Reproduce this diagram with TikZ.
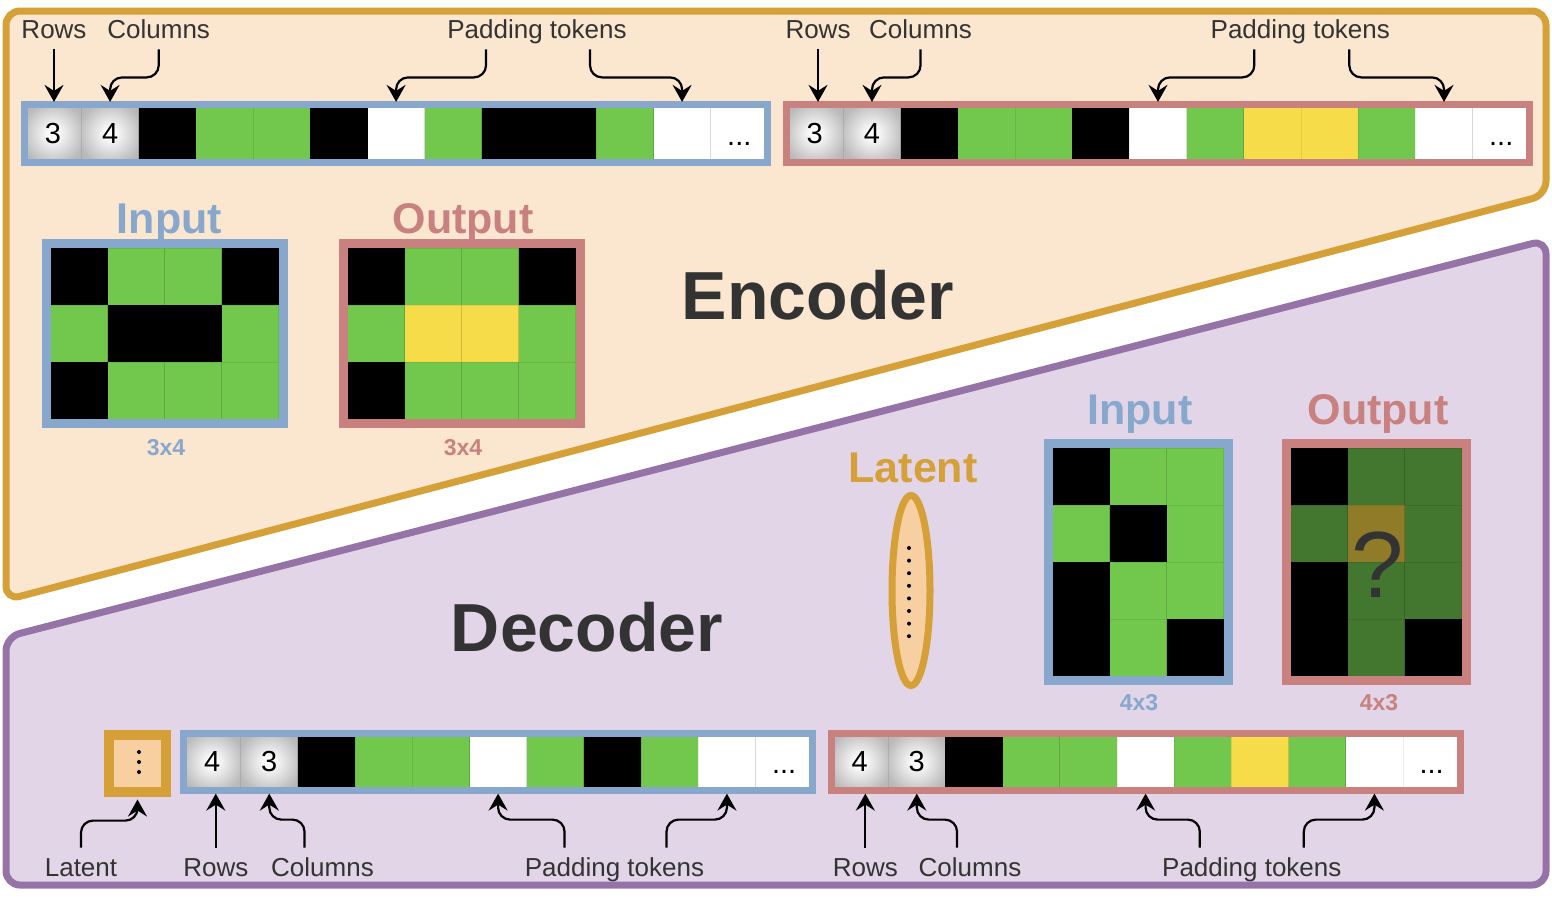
\documentclass[tikz,border=0pt]{standalone}
\usepackage{fontspec}
\setmainfont{Liberation Sans}
\usetikzlibrary{calc,arrows.meta,shapes.geometric}

\definecolor{encfill}{HTML}{FBE6CF}
\definecolor{encline}{HTML}{D4A037}
\definecolor{decfill}{HTML}{E1D5E7}
\definecolor{decline}{HTML}{9673A6}
\definecolor{inblue}{HTML}{87A7CC}
\definecolor{outred}{HTML}{C9817F}
\definecolor{grn}{HTML}{71C84C}
\definecolor{ylw}{HTML}{F6DC48}
\definecolor{dgrn}{HTML}{43762E}
\definecolor{olv}{HTML}{8F7B28}
\definecolor{txt}{HTML}{333333}
\definecolor{latfill}{HTML}{F7CFA0}

\pgfdeclareradialshading{tokshade}{\pgfpoint{0bp}{0bp}}{color(0bp)=(white); color(3bp)=(white); color(28bp)=(black!27); color(50bp)=(black!33)}

\newcommand{\lblfont}{\fontsize{13}{15}\selectfont}
\newcommand{\tokfont}{\fontsize{14.5}{16}\selectfont}
\newcommand{\ttlfont}{\fontsize{21.5}{24}\selectfont\bfseries}
\newcommand{\dimfont}{\fontsize{11.5}{13}\selectfont\bfseries}
\newcommand{\bigfont}{\fontsize{34}{38}\selectfont\bfseries}
\newcommand{\qfont}{\fontsize{47}{50}\selectfont}

\tikzset{
  cell/.style={minimum size=28.6pt, inner sep=0pt, outer sep=0pt, draw=black, draw opacity=0.08, line width=0.5pt},
  gcell/.style={cell, minimum size=28.5pt},
  tok/.style={cell, shading=tokshade, shade, font=\tokfont},
  stripframe/.style={line width=3.5pt},
  gridframe/.style={line width=4.5pt},
  lbl/.style={font=\lblfont, text=txt, inner sep=0pt, anchor=base, text height=9.5pt, text depth=5.5pt},
  blbl/.style={lbl, text height=14pt},
  ttl/.style={font=\ttlfont, anchor=base, inner sep=0pt},
  dimlbl/.style={font=\dimfont, anchor=base, inner sep=0pt},
  bigtxt/.style={font=\bigfont, text=txt, anchor=base, inner sep=0pt},
  moretok/.style={font=\tokfont, anchor=base, inner sep=0pt},
  ptr/.style={-{Stealth[length=8.5pt, width=9.5pt, inset=3pt]}, line width=1.1pt, rounded corners=6pt, shorten >=1.5pt}
}

\begin{document}
\begin{tikzpicture}[x=0.5pt, y=-0.5pt]

%\draw[step=50, gray!20, very thin] (0,0) grid (1552,900);
\useasboundingbox (0,0) rectangle (1552,900);

% panels
\draw[encline, fill=encfill, line width=3.5pt, rounded corners=7pt] (6,11) -- (1546,11) -- (1546,195) -- (6,600) -- cycle;
\draw[decline, fill=decfill, line width=3.5pt, rounded corners=7pt] (6,637) -- (1546,240) -- (1546,885) -- (6,885) -- cycle;

% encoder input sequence
\node[tok] (ei1) at (52.9,133.5) {3};
\node[tok] (ei2) at (110.1,133.5) {4};
\foreach \c [count=\i from 3] in {black,grn,grn,black,white,grn,black,black,grn,white,white}
  \node[cell, fill=\c] (ei\i) at ({57.2*\i-4.3},133.5) {};
\draw[inblue, stripframe] (ei1.north west) rectangle (ei13.south east);
\node[moretok] at ($(ei13.center)+(0,11.5)$) {...};

% encoder output sequence
\node[tok] (eo1) at (814.8,133.5) {3};
\node[tok] (eo2) at (872,133.5) {4};
\foreach \c [count=\i from 3] in {black,grn,grn,black,white,grn,ylw,ylw,grn,white,white}
  \node[cell, fill=\c] (eo\i) at ({757.6+57.2*\i},133.5) {};
\draw[outred, stripframe] (eo1.north west) rectangle (eo13.south east);
\node[moretok] at ($(eo13.center)+(0,11.5)$) {...};

% encoder grids
\foreach \row [count=\r] in {{black,grn,grn,black},{grn,black,black,grn},{black,grn,grn,grn}}
  \foreach \c [count=\q] in \row
    \node[gcell, fill=\c] (gi-\r-\q) at ({22+57*\q},{219.5+57*\r}) {};
\draw[inblue, gridframe] ($(gi-1-1.north west)+(-4.5,-4.5)$) rectangle ($(gi-3-4.south east)+(4.5,4.5)$);

\foreach \row [count=\r] in {{black,grn,grn,black},{grn,ylw,ylw,grn},{black,grn,grn,grn}}
  \foreach \c [count=\q] in \row
    \node[gcell, fill=\c] (go-\r-\q) at ({319.3+57*\q},{219.5+57*\r}) {};
\draw[outred, gridframe] ($(go-1-1.north west)+(-4.5,-4.5)$) rectangle ($(go-3-4.south east)+(4.5,4.5)$);

\node[ttl, text=inblue] (inA) at (169.5,233.5) {Input};
\node[ttl, text=outred] (outA) at (463,233.5) {Output};
\node[dimlbl, text=inblue] (szA) at (166,455) {3x4};
\node[dimlbl, text=outred] (szB) at (463,455) {3x4};
\node[bigtxt] (enc) at (818,319) {Encoder};

% decoder grids
\foreach \row [count=\r] in {{black,grn,grn},{grn,black,grn},{black,grn,grn},{black,grn,black}}
  \foreach \c [count=\q] in \row
    \node[gcell, fill=\c] (hi-\r-\q) at ({1024.2+57*\q},{419.8+57*\r}) {};
\draw[inblue, gridframe] ($(hi-1-1.north west)+(-4.5,-4.5)$) rectangle ($(hi-4-3.south east)+(4.5,4.5)$);

\foreach \row [count=\r] in {{black,dgrn,dgrn},{dgrn,olv,dgrn},{black,dgrn,dgrn},{black,dgrn,black}}
  \foreach \c [count=\q] in \row
    \node[gcell, fill=\c] (ho-\r-\q) at ({1262.2+57*\q},{419.8+57*\r}) {};
\draw[outred, gridframe] ($(ho-1-1.north west)+(-4.5,-4.5)$) rectangle ($(ho-4-3.south east)+(4.5,4.5)$);
\node[font=\qfont, text=txt, anchor=base, inner sep=0pt] (qm) at (1378,597) {?};

\node[ttl, text=inblue] (inB) at (1140,424) {Input};
\node[ttl, text=outred] (outB) at (1378,424) {Output};
\node[dimlbl, text=inblue] (szC) at (1139,710) {4x3};
\node[dimlbl, text=outred] (szD) at (1379,710) {4x3};
\node[ttl, text=encline] (latlbl) at (913,482) {Latent};
\node[bigtxt] (dec) at (587,651) {Decoder};

% latent
\node[draw=encline, fill=latfill, line width=3.5pt, ellipse, minimum width=19pt, minimum height=95pt, inner sep=0pt] (latent) at (911,590.5) {};
\foreach \k in {0,...,7}
  \fill (909,{548+12.6*\k}) circle (1pt);

% decoder input sequence
\node[draw=encline, fill=latfill, line width=5pt, minimum size=28.5pt, inner sep=0pt] (lat) at (137.5,763) {};
\foreach \k in {0,1,2}
  \fill (139,{752+10*\k}) circle (1pt);

\node[tok] (di1) at (212.1,762) {4};
\node[tok] (di2) at (269.3,762) {3};
\foreach \c [count=\i from 3] in {black,grn,grn,white,grn,black,grn,white,white}
  \node[cell, fill=\c] (di\i) at ({154.9+57.2*\i},762) {};
\draw[inblue, stripframe] (di1.north west) rectangle (di11.south east);
\node[moretok] at ($(di11.center)+(0,11.5)$) {...};

% decoder output sequence
\node[tok] (do1) at (859.6,762) {4};
\node[tok] (do2) at (916.8,762) {3};
\foreach \c [count=\i from 3] in {black,grn,grn,white,grn,ylw,grn,white,white}
  \node[cell, fill=\c] (do\i) at ({802.4+57.2*\i},762) {};
\draw[outred, stripframe] (do1.north west) rectangle (do11.south east);
\node[moretok] at ($(do11.center)+(0,11.5)$) {...};

% top labels
\node[lbl] (er) at (54,38) {Rows};
\node[lbl] (ec) at (158.7,38) {Columns};
\node[lbl] (ep) at (537,38) {Padding tokens};
\node[lbl] (or) at (818,38) {Rows};
\node[lbl] (oc) at (920.5,38) {Columns};
\node[lbl] (op) at (1300.3,38) {Padding tokens};

\draw[ptr] (er.south) -- (er.south |- ei1.north);
\draw[ptr] (ec.south) -- ++(0,28) -| (ei2.north);
\draw[ptr] ($(ep.south)+(-51,0)$) -- ++(0,28) -| (ei7.north);
\draw[ptr] ($(ep.south)+(53,0)$) -- ++(0,28) -| (ei12.north);

\draw[ptr] (or.south) -- (or.south |- eo1.north);
\draw[ptr] (oc.south) -- ++(0,28) -| (eo2.north);
\draw[ptr] ($(op.south)+(-46,0)$) -- ++(0,28) -| (eo7.north);
\draw[ptr] ($(op.south)+(49,0)$) -- ++(0,28) -| (eo12.north);

% bottom labels
\node[blbl] (dl) at (81,876) {Latent};
\node[blbl] (dr) at (215.8,876) {Rows};
\node[blbl] (dc) at (322.5,876) {Columns};
\node[blbl] (dp) at (614.5,876) {Padding tokens};
\node[blbl] (br) at (865.3,876) {Rows};
\node[blbl] (bc) at (970,876) {Columns};
\node[blbl] (bp) at (1251.8,876) {Padding tokens};

\draw[ptr] (dl.north) -- ++(0,-27) -| (lat.south);
\draw[ptr] (dr.north) -- (dr.north |- di1.south);
\draw[ptr] ($(dc.north)+(-18,0)$) -- ++(0,-28) -| (di2.south);
\draw[ptr] ($(dp.north)+(-50,0)$) -- ++(0,-28) -| (di6.south);
\draw[ptr] ($(dp.north)+(52,0)$) -- ++(0,-28) -| (di10.south);

\draw[ptr] (br.north) -- (br.north |- do1.south);
\draw[ptr] ($(bc.north)+(-13,0)$) -- ++(0,-28) -| (do2.south);
\draw[ptr] ($(bp.north)+(-52,0)$) -- ++(0,-28) -| (do6.south);
\draw[ptr] ($(bp.north)+(52,0)$) -- ++(0,-28) -| (do10.south);

\end{tikzpicture}
\end{document}
